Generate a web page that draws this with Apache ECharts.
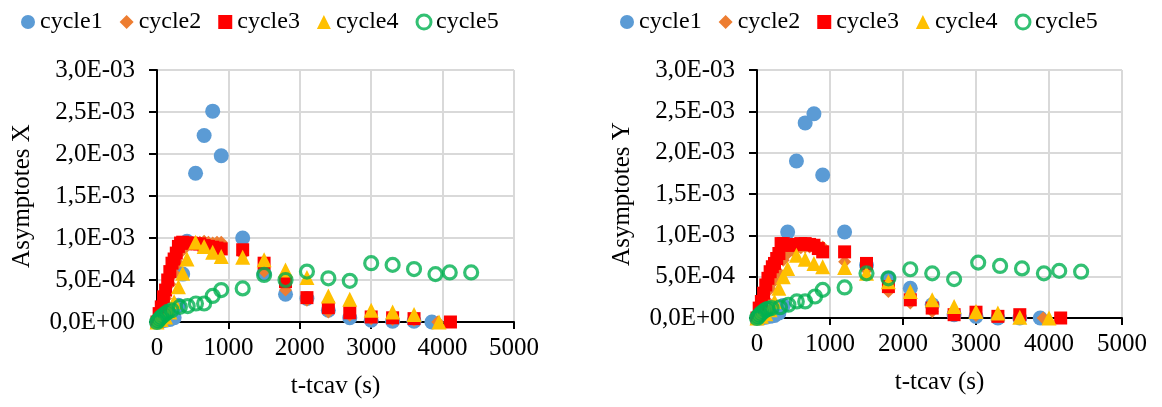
<!DOCTYPE html>
<html lang="en">
<head>
    <meta charset="UTF-8">
    <title>Asymptotes X / Y</title>
    <script src="https://cdn.jsdelivr.net/npm/echarts@6/dist/echarts.min.js"></script>
    <style>
        html, body { margin: 0; padding: 0; background: #fff; }
    </style>
</head>
<body>
<div id="my" style="width: 1162px;height: 407px;"></div>
<script>
    // ---- data (t-tcav in s, asymptote values) ----
    var names = ['cycle1', 'cycle2', 'cycle3', 'cycle4', 'cycle5']
    var xTicks = [0, 1000, 2000, 3000, 4000, 5000]
    var yTicks = [0, 0.0005, 0.001, 0.0015, 0.002, 0.0025, 0.003]

    // left chart: Asymptotes X
    var c1xT = [0, 60, 120, 180, 240, 300, 360, 420, 540, 660, 780, 900, 1200, 1500, 1800, 2100, 2400, 2700, 3000, 3300, 3600, 3850]
    var c1xV = [0, 0.00001, 0.00002, 0.00003, 0.00005, 0.0002, 0.00057, 0.00096, 0.00177, 0.00222, 0.00251, 0.00198, 0.001, 0.00058, 0.00033, 0.00028, 0.00014, 0.00005, 0.00002, 0.00001, 0.00001, 0]
    var c2xT = [0, 60, 120, 180, 240, 300, 360, 420, 480, 540, 600, 660, 720, 780, 840, 900, 1200, 1500, 1800, 2100, 2400, 2700, 3000, 3300, 3600, 3930]
    var c2xV = [0, 0.00012, 0.00028, 0.00045, 0.00058, 0.0007, 0.00085, 0.00092, 0.00093, 0.00094, 0.00095, 0.00096, 0.00095, 0.00094, 0.00095, 0.00095, 0.0008, 0.0006, 0.00038, 0.00026, 0.00012, 0.00008, 0.00004, 0.00003, 0.00002, 0]
    var c3xT = [0, 30, 60, 90, 120, 150, 180, 210, 240, 270, 300, 330, 360, 420, 480, 540, 600, 660, 720, 780, 840, 900, 1200, 1500, 1800, 2100, 2400, 2700, 3000, 3300, 3600, 4110]
    var c3xV = [0, 0.0001, 0.00018, 0.0003, 0.00038, 0.0005, 0.0006, 0.0007, 0.00075, 0.00082, 0.0009, 0.00094, 0.00095, 0.00094, 0.00094, 0.00093, 0.00093, 0.00091, 0.0009, 0.00089, 0.00088, 0.00087, 0.00086, 0.0007, 0.00048, 0.00029, 0.00017, 0.00011, 0.00006, 0.00005, 0.00004, 0]
    var c4xT = [0, 60, 120, 180, 240, 300, 360, 420, 540, 660, 780, 900, 1200, 1500, 1800, 2100, 2400, 2700, 3000, 3300, 3600, 3950]
    var c4xV = [0, 0.00003, 0.00006, 0.00012, 0.00024, 0.00042, 0.00058, 0.00075, 0.00095, 0.0009, 0.00083, 0.00078, 0.00077, 0.00074, 0.00062, 0.00053, 0.00031, 0.00027, 0.00014, 0.00012, 0.00009, 0]
    var c5xT = [0, 20, 40, 60, 90, 120, 150, 205, 320, 430, 545, 660, 780, 900, 1200, 1500, 1800, 2100, 2400, 2700, 3000, 3300, 3600, 3900, 4100, 4400]
    var c5xV = [0, 0.00002, 0.00004, 0.00006, 0.00008, 0.0001, 0.00012, 0.00014, 0.00018, 0.00019, 0.00022, 0.00022, 0.00031, 0.00038, 0.0004, 0.00056, 0.0005, 0.0006, 0.00052, 0.00049, 0.0007, 0.00068, 0.00063, 0.00057, 0.00059, 0.00059]

    // right chart: Asymptotes Y
    var c1yT = [0, 60, 120, 180, 240, 300, 360, 420, 540, 660, 780, 900, 1200, 1500, 1800, 2100, 2400, 2700, 3000, 3300, 3600, 3880]
    var c1yV = [0, 0, 0.00001, 0.00002, 0.00003, 0.00006, 0.00015, 0.00104, 0.0019, 0.00236, 0.00247, 0.00173, 0.00104, 0.00064, 0.00048, 0.00036, 0.00016, 0.00004, 0.00002, 0, 0, 0]
    var c2yT = [0, 60, 120, 180, 240, 300, 360, 420, 480, 540, 600, 660, 720, 780, 840, 900, 1200, 1500, 1800, 2100, 2400, 2700, 3000, 3300, 3600, 3920]
    var c2yV = [0, 0.0001, 0.00022, 0.00035, 0.00045, 0.00055, 0.0007, 0.00078, 0.00082, 0.00084, 0.00085, 0.00086, 0.00086, 0.00087, 0.00087, 0.00086, 0.00068, 0.00058, 0.00032, 0.00018, 0.00008, 0.00004, 0.00003, 0.00002, 0.00001, 0]
    var c3yT = [0, 30, 60, 90, 120, 150, 180, 210, 240, 270, 300, 330, 360, 420, 480, 540, 600, 660, 720, 780, 840, 900, 1200, 1500, 1800, 2100, 2400, 2700, 3000, 3300, 3600, 4160]
    var c3yV = [0, 0.00012, 0.0002, 0.0003, 0.0004, 0.00048, 0.00056, 0.00062, 0.00066, 0.00072, 0.00078, 0.0009, 0.0009, 0.00088, 0.00088, 0.00089, 0.0009, 0.0009, 0.00089, 0.00088, 0.00084, 0.0008, 0.0008, 0.00066, 0.00038, 0.00022, 0.00012, 0.00004, 0.00007, 0.00002, 0.00004, 0]
    var c4yT = [0, 60, 120, 180, 240, 300, 360, 420, 540, 660, 780, 900, 1200, 1500, 1800, 2100, 2400, 2700, 3000, 3300, 3600, 4000]
    var c4yV = [0, 0.00002, 0.00005, 0.0001, 0.0002, 0.00036, 0.0005, 0.0006, 0.00076, 0.00071, 0.00066, 0.00062, 0.00061, 0.00054, 0.00044, 0.00032, 0.00022, 0.00014, 0.00008, 0.00006, 0.00001, 0]
    var c5yT = [0, 20, 40, 60, 90, 120, 150, 200, 315, 430, 545, 660, 795, 900, 1200, 1500, 1800, 2100, 2400, 2700, 3030, 3330, 3630, 3930, 4140, 4440]
    var c5yV = [0, 0.00002, 0.00004, 0.00006, 0.00008, 0.0001, 0.00011, 0.00012, 0.00013, 0.00016, 0.0002, 0.0002, 0.00026, 0.00034, 0.00037, 0.00054, 0.00048, 0.00059, 0.00054, 0.00047, 0.00067, 0.00063, 0.0006, 0.00054, 0.00057, 0.00056]

    var colors = ['#5B9BD5', '#ED7D31', '#FF0000', '#FFC000', '#00B050']
    var symbols = ['circle', 'diamond', 'rect', 'triangle', 'circle']
    var sizes = [15, 13, 13, 15, 13]
    var font = 'Liberation Serif, Times New Roman, serif'

    function pts(t, v) {
        return t.map(function (x, i) { return [x, v[i]] })
    }

    // 3,0E-03 style labels
    function sci(v) {
        if (v === 0) return '0,0E+00'
        var s = v.toExponential(1).split('e')
        var e = parseInt(s[1], 10)
        var es = (e < 0 ? '-' : '+') + (Math.abs(e) < 10 ? '0' : '') + Math.abs(e)
        return s[0].replace('.', ',') + 'E' + es
    }

    var xData = [pts(c1xT, c1xV), pts(c2xT, c2xV), pts(c3xT, c3xV), pts(c4xT, c4xV), pts(c5xT, c5xV)]
    var yData = [pts(c1yT, c1yV), pts(c2yT, c2yV), pts(c3yT, c3yV), pts(c4yT, c4yV), pts(c5yT, c5yV)]

    // cycle5 is a hollow ring: transparent fill, thick green border
    function style(i) {
        if (i === 4) return {color: 'rgba(0,0,0,0)', borderColor: colors[i], borderWidth: 3.2}
        return {color: colors[i], opacity: 1}
    }

    function mkSeries(data, idx) {
        return data.map(function (d, i) {
            return {
                name: names[i],
                type: 'scatter',
                xAxisIndex: idx,
                yAxisIndex: idx,
                symbol: symbols[i],
                symbolSize: sizes[i],
                itemStyle: style(i),
                emphasis: {disabled: true},
                data: d
            }
        })
    }

    function mkLegend(left) {
        return {
            left: left,
            top: 5,
            itemWidth: 14,
            itemHeight: 14,
            itemGap: 17,
            textStyle: {fontFamily: font, fontSize: 24, color: '#000'},
            data: names.map(function (n, i) {
                return {
                    name: n,
                    icon: symbols[i],
                    itemStyle: i === 4
                        ? {color: '#fff', borderColor: colors[i], borderWidth: 3}
                        : {color: colors[i]}
                }
            })
        }
    }

    function mkX(idx) {
        return {
            gridIndex: idx,
            type: 'value',
            min: xTicks[0],
            max: xTicks[xTicks.length - 1],
            interval: xTicks[1] - xTicks[0],
            name: 't-tcav (s)',
            nameLocation: 'middle',
            nameGap: 52,
            nameTextStyle: {fontFamily: font, fontSize: 25, color: '#000'},
            axisLine: {onZero: false, lineStyle: {color: '#000', width: 2}},
            axisTick: {show: true, inside: false, length: 7, lineStyle: {color: '#000', width: 2}},
            axisLabel: {
                fontFamily: font, fontSize: 25, color: '#000', margin: 14,
                formatter: function (v) { return String(v) }
            },
            splitLine: {show: true, lineStyle: {color: '#D9D9D9', width: 2}}
        }
    }

    function mkY(idx, title) {
        return {
            gridIndex: idx,
            type: 'value',
            min: yTicks[0],
            max: yTicks[yTicks.length - 1],
            interval: yTicks[1] - yTicks[0],
            name: title,
            nameLocation: 'middle',
            nameGap: 122,
            nameTextStyle: {fontFamily: font, fontSize: 25, color: '#000'},
            axisLine: {show: true, lineStyle: {color: '#000', width: 2}},
            axisTick: {show: true, inside: false, length: 8, lineStyle: {color: '#000', width: 2}},
            axisLabel: {fontFamily: font, fontSize: 25, color: '#000', margin: 22, formatter: sci},
            splitLine: {show: true, lineStyle: {color: '#D9D9D9', width: 2}}
        }
    }

    var mCharts = echarts.init(document.getElementById('my'), null, {renderer: 'canvas'})
    var option = {
        backgroundColor: '#fff',
        animation: false,
        legend: [mkLegend(16), mkLegend(615)],
        grid: [
            {left: 157, top: 70, width: 357, height: 252},
            {left: 757, top: 70, width: 365, height: 248}
        ],
        xAxis: [mkX(0), mkX(1)],
        yAxis: [mkY(0, 'Asymptotes X'), mkY(1, 'Asymptotes Y')],
        series: mkSeries(xData, 0).concat(mkSeries(yData, 1))
    }
    mCharts.setOption(option)
</script>
</body>
</html>
